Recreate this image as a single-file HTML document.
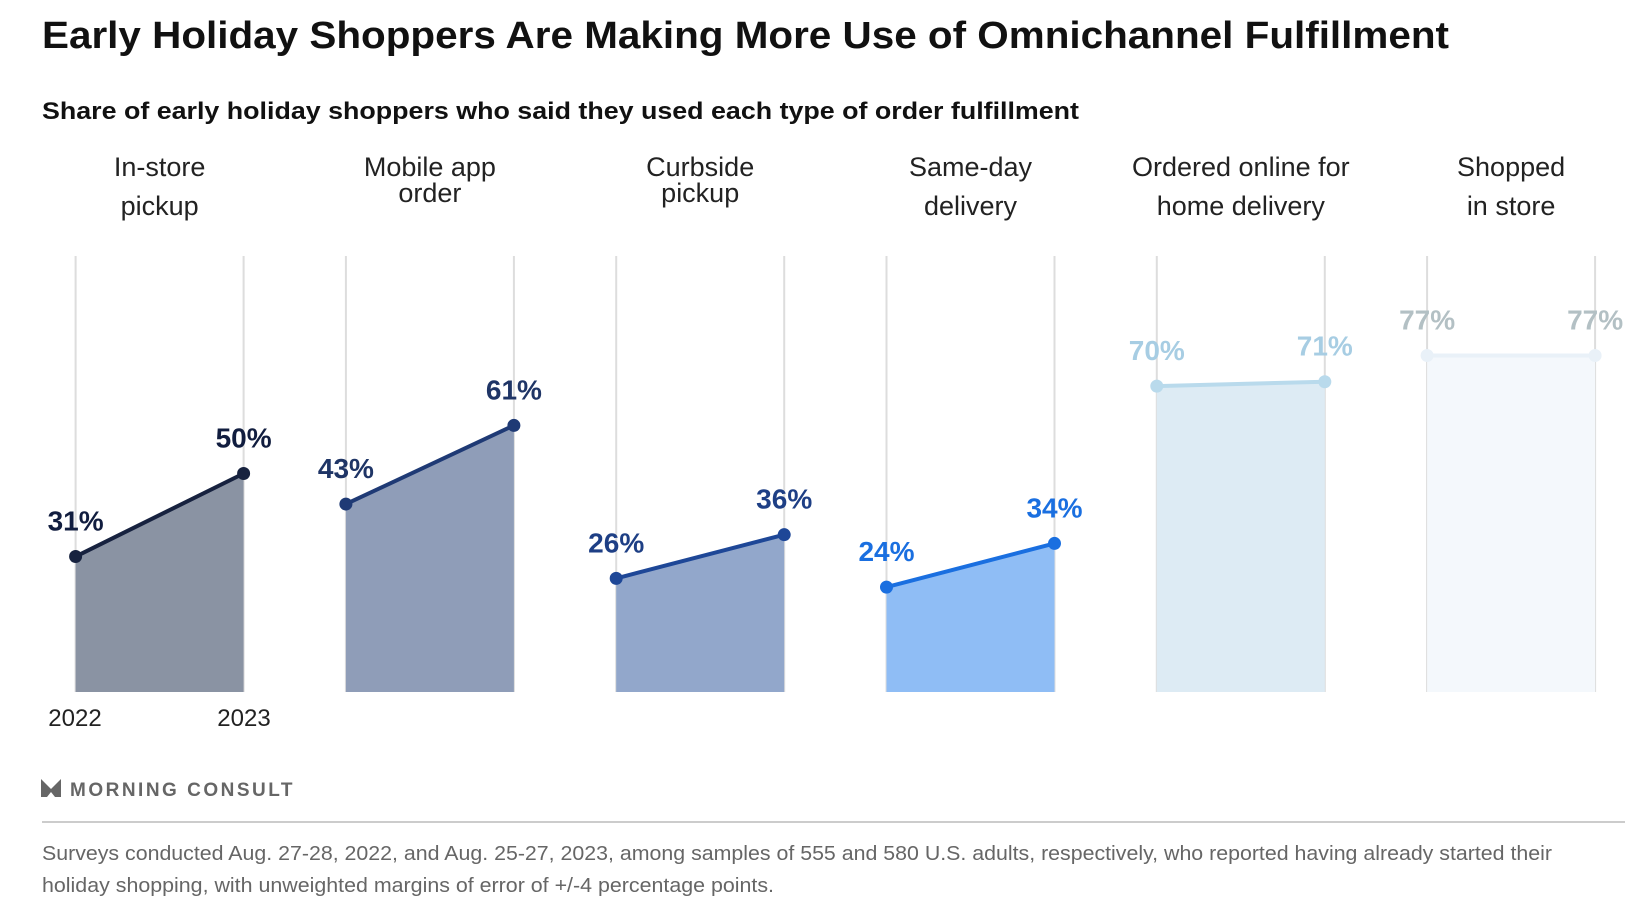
<!DOCTYPE html>
<html><head><meta charset="utf-8"><style>
body{margin:0;background:#fff;width:1646px;height:921px;overflow:hidden;font-family:"Liberation Sans",sans-serif}
</style></head><body>
<svg id="chart" width="1646" height="921" style="position:absolute;left:0;top:0">
<text x="42" y="48" font-size="38" font-weight="bold" fill="#111" textLength="1407" lengthAdjust="spacingAndGlyphs">Early Holiday Shoppers Are Making More Use of Omnichannel Fulfillment</text>
<text x="42" y="119" font-size="24" font-weight="bold" fill="#111" textLength="1037" lengthAdjust="spacingAndGlyphs">Share of early holiday shoppers who said they used each type of order fulfillment</text>
<g id="plot"></g>
<text x="75" y="726" font-size="24" fill="#222" text-anchor="middle">2022</text>
<text x="244" y="726" font-size="24" fill="#222" text-anchor="middle">2023</text>
<g>
<path d="M41 779 L51 789 L61 779 L61 797 L55 797 L51 792 L47 797 L41 797 Z" fill="#666"/>
<text x="70" y="796" font-size="19" font-weight="bold" fill="#666" letter-spacing="2.5">MORNING CONSULT</text>
</g>
<line x1="42" y1="822" x2="1625" y2="822" stroke="#ccc" stroke-width="2"/>
<text x="42" y="860" font-size="20" fill="#666" textLength="1510" lengthAdjust="spacingAndGlyphs">Surveys conducted Aug. 27-28, 2022, and Aug. 25-27, 2023, among samples of 555 and 580 U.S. adults, respectively, who reported having already started their</text>
<text x="42" y="892" font-size="20" fill="#666" textLength="732" lengthAdjust="spacingAndGlyphs">holiday shopping, with unweighted margins of error of +/-4 percentage points.</text>
</svg>
<script>
const categories=[["In-store","pickup"],["Mobile app","order"],["Curbside","pickup"],["Same-day","delivery"],["Ordered online for","home delivery"],["Shopped","in store"]];
const values2022=[31,43,26,24,70,77];
const values2023=[50,61,36,34,71,77];
const tightLabels=[false,true,true,false,false,false];
const fills=["#8a93a3","#8f9db8","#92a7cb","#8fbdf5","#ddebf4","#f4f8fc"];
const lines=["#17223f","#1f3a75","#1e4797","#1a6fe0","#b9daec","#e9f1f8"];
const labelColors=["#111d3f","#1f3566","#1e3f85","#1a6fe0","#a7cde3","#b3c0c4"];
const NS="http://www.w3.org/2000/svg";
const g=document.getElementById('plot');
const x0=i=>75.6+i*270.3, x1=i=>x0(i)+168;
const y=v=>692-4.37*v;
function mk(t,a){const e=document.createElementNS(NS,t);for(const k in a)e.setAttribute(k,a[k]);g.appendChild(e);return e;}
categories.forEach((c,i)=>{
  const a=x0(i),b=x1(i),cx=(a+b)/2;
  const t1=mk('text',{x:cx,y:176,'font-size':27,fill:'#222','text-anchor':'middle'});t1.textContent=c[0];
  
  
  const t2=mk('text',{x:cx,y:tightLabels[i]?202:215,'font-size':27,fill:'#222','text-anchor':'middle'});t2.textContent=c[1];
  
  
  [a,b].forEach(x=>{const l=mk('line',{x1:x,x2:x,y1:256,y2:692,stroke:'#ddd','stroke-width':2});
    
    });
  const ya=y(values2022[i]),yb=y(values2023[i]);
  const area=mk('polygon',{points:`${a},692 ${a},${ya} ${b},${yb} ${b},692`,fill:fills[i]});
  
  
  const ln=mk('line',{x1:a,y1:ya,x2:b,y2:yb,stroke:lines[i],'stroke-width':4});
  
  
  [[a,ya,values2022[i]],[b,yb,values2023[i]]].forEach(([x,yy,v])=>{
    const d=mk('circle',{cx:x,cy:yy,r:6.5,fill:lines[i]});
    
    
    const lb=mk('text',{x:x,y:yy-26,'font-size':28,'font-weight':'bold',fill:labelColors[i],'text-anchor':'middle'});
    lb.textContent=v+'%';
    
    
  });
});
</script>
</body></html>
